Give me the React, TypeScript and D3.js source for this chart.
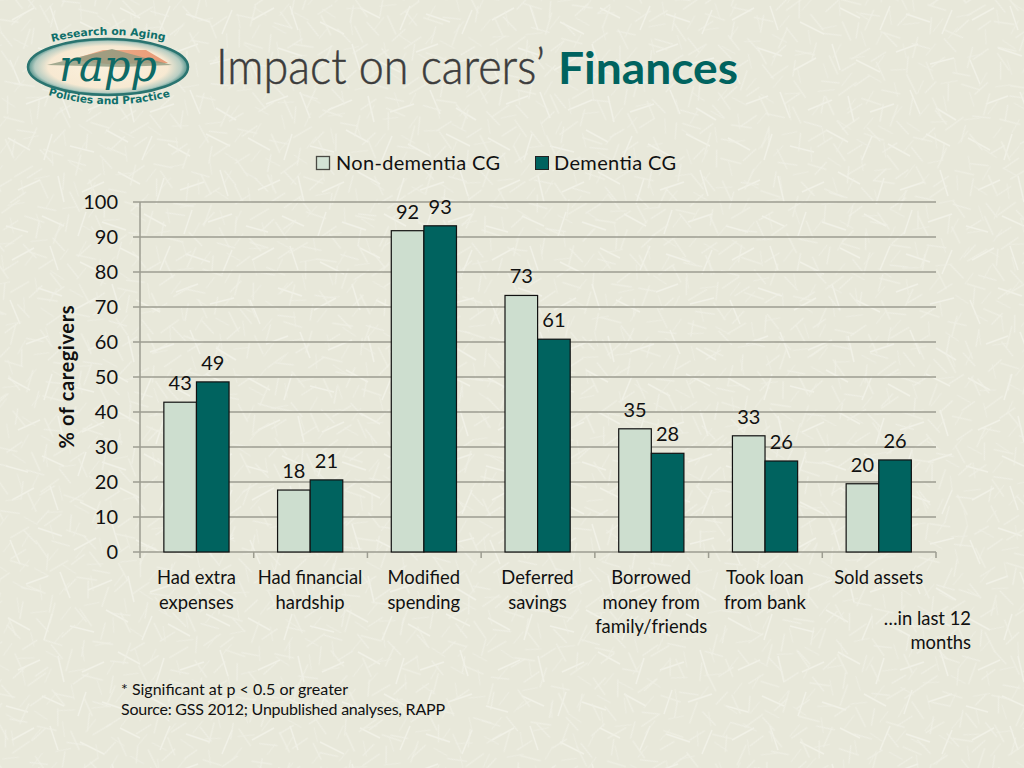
import React from "react";
import * as d3 from "d3";

const categories = [
  ["Had extra", "expenses"],
  ["Had financial", "hardship"],
  ["Modified", "spending"],
  ["Deferred", "savings"],
  ["Borrowed", "money from", "family/friends"],
  ["Took loan", "from bank"],
  ["Sold assets"],
];
const nonDementia = [42.8, 17.7, 91.8, 73.3, 35.2, 33.2, 19.5];
const dementia = [48.6, 20.6, 93.2, 60.8, 28.2, 26, 26.3];
const yTicks = [0, 10, 20, 30, 40, 50, 60, 70, 80, 90, 100];
const seriesNames = ["Non-dementia CG", "Dementia CG"];
const seriesColors = ["#cddecf", "#00635f"];
const textureStrokes = [
  [12, 20, 34, 8], [50, 6, 58, 30], [80, 22, 104, 34], [120, 8, 140, 18], [160, 30, 170, 6],
  [186, 14, 210, 22], [222, 34, 232, 10], [10, 60, 20, 84], [38, 48, 62, 56], [74, 70, 96, 58],
  [112, 44, 120, 70], [136, 60, 160, 72], [176, 52, 198, 44], [210, 64, 234, 58], [26, 104, 48, 96],
  [60, 92, 70, 118], [88, 110, 112, 100], [128, 96, 134, 122], [150, 112, 174, 104], [190, 90, 200, 114],
  [216, 108, 236, 120], [8, 138, 30, 150], [44, 160, 52, 134], [70, 146, 94, 152], [106, 130, 128, 142],
  [142, 160, 152, 136], [168, 144, 190, 156], [206, 134, 230, 146], [18, 190, 40, 180], [58, 176, 64, 202],
  [82, 192, 104, 182], [118, 172, 140, 184], [156, 204, 164, 178], [180, 190, 204, 182], [220, 170, 228, 196],
  [6, 226, 28, 232], [42, 216, 64, 226], [78, 236, 86, 212], [102, 222, 126, 230], [144, 214, 166, 226],
  [184, 234, 192, 210], [208, 222, 232, 214],
];
const patternLayers = [
  { id: "texA", transform: "", color: "#f1f1e7" },
  { id: "texB", transform: "rotate(37) scale(0.83)", color: "#efefe4" },
  { id: "texC", transform: "rotate(-61) scale(0.71) translate(31,17)", color: "#f0f0e6" },
  { id: "texD", transform: "rotate(101) scale(0.62) translate(13,47)", color: "#eeeee3" },
];

const x0 = d3.scaleBand<number>().domain(d3.range(categories.length)).range([140, 936]);
const y = d3.scaleLinear().domain([0, 100]).range([552, 202]);
const fmt = d3.format(".0f");
const barW = 32.6;
const FONT = "Lato, 'Noto Sans', sans-serif";

function Logo() {
  return (
    <g>
      <defs>
        <radialGradient id="logoFill" cx="50%" cy="50%" r="52%">
          <stop offset="0%" stopColor="#fbf1dd" />
          <stop offset="72%" stopColor="#f7e9d2" />
          <stop offset="88%" stopColor="#b7cdc2" />
          <stop offset="100%" stopColor="#1f7470" />
        </radialGradient>
        <linearGradient id="roofFill" x1="0" x2="1" y1="0" y2="0">
          <stop offset="0%" stopColor="#f0b08c" />
          <stop offset="100%" stopColor="#e89c78" />
        </linearGradient>
        <path id="arcTop" d="M52,42 Q105,28 166,41" fill="none" />
        <path id="arcBot" d="M48,95 Q108,113 172,96" fill="none" />
      </defs>
      <ellipse cx="108" cy="67" rx="80" ry="28" fill="url(#logoFill)" stroke="#2a7470" strokeWidth="2.5" />
      <path d="M70,60 L103,50 L146,50 L168,63 L108,64 Z" fill="url(#roofFill)" />
      <path d="M47,65 L112,49 L172,65 L120,67 Z" fill="#8d9a80" opacity="0.8" />
      <text x="108" y="81" textAnchor="middle" fontFamily="'DejaVu Serif', serif" fontStyle="italic" fontSize="44" fill="#0e6a66" textLength="98" lengthAdjust="spacingAndGlyphs">rapp</text>
      <text fontFamily="'DejaVu Sans', sans-serif" fontWeight="700" fontSize="10.5" fill="#0f6f6a">
        <textPath href="#arcTop" textLength="114" lengthAdjust="spacingAndGlyphs">Research on Aging</textPath>
      </text>
      <text fontFamily="'DejaVu Sans', sans-serif" fontWeight="700" fontSize="10.5" fill="#0f6f6a">
        <textPath href="#arcBot" textLength="124" lengthAdjust="spacingAndGlyphs">Policies and Practice</textPath>
      </text>
    </g>
  );
}

export default function App() {
  return (
    <svg width={1024} height={768} style={{ position: "absolute", left: 0, top: 0 }} fontFamily={FONT}>
      <defs>
        {patternLayers.map((p) => (
          <pattern key={p.id} id={p.id} width="240" height="240" patternUnits="userSpaceOnUse" patternTransform={p.transform}>
            {textureStrokes.map((s, i) => (
              <line key={i} x1={s[0]} y1={s[1]} x2={s[2]} y2={s[3]} stroke={p.color} strokeWidth="1.5" />
            ))}
          </pattern>
        ))}
      </defs>
      <rect width="1024" height="768" fill="#e8e8da" />
      {patternLayers.map((p) => (
        <rect key={p.id} width="1024" height="768" fill={`url(#${p.id})`} />
      ))}
      <Logo />

      <text x="216" y="84" fontSize="49" fontWeight="300" fill="#3c3c3c" stroke="#3c3c3c" strokeWidth="0.5" textLength="329" lengthAdjust="spacingAndGlyphs">Impact on carers’</text>
      <text x="558" y="84" fontSize="43" fontWeight="700" fill="#00635f" textLength="180" lengthAdjust="spacingAndGlyphs">Finances</text>

      {/* legend */}
      <rect x="316.5" y="156.5" width="13" height="13" fill="#d3e3d5" stroke="#4a4a44" strokeWidth="1.3" />
      <text x="336" y="170" fontSize="20" fill="#111" textLength="164">{seriesNames[0]}</text>
      <rect x="535.5" y="156.5" width="13" height="13" fill={seriesColors[1]} stroke="#222" />
      <text x="554" y="170" fontSize="20" fill="#111" textLength="122">{seriesNames[1]}</text>

      {/* grid */}
      {yTicks.map((t) => (
        <g key={t}>
          <line x1={133} x2={936} y1={y(t)} y2={y(t)} stroke="#9c9c90" strokeWidth="1.5" />
          <text x={118} y={y(t) + 7} textAnchor="end" fontSize="20" fill="#111">{t}</text>
        </g>
      ))}
      <line x1={140} x2={140} y1={202} y2={552} stroke="#9c9c90" strokeWidth="1.5" />
      {d3.range(categories.length + 1).map((i) => {
        const px = 140 + i * x0.step();
        return <line key={i} x1={px} x2={px} y1={552} y2={558} stroke="#9c9c90" strokeWidth="1.5" />;
      })}

      {/* y title */}
      <text transform="translate(74,377) rotate(-90)" textAnchor="middle" fontSize="20" fontWeight="700" fill="#111" textLength="143">% of caregivers</text>

      {/* bars */}
      {categories.map((_, i) => {
        const c = x0(i)! + x0.bandwidth() / 2;
        return (
          <g key={i}>
            {[nonDementia[i], dementia[i]].map((v, j) => {
              const bx = c - barW + j * barW - 0.4;
              return (
                <g key={j}>
                  <rect x={bx} y={y(v)} width={barW} height={552 - y(v)} fill={seriesColors[j]} stroke="#111" strokeWidth="1.2" />
                  <text x={bx + barW / 2} y={y(v) - 12} textAnchor="middle" fontSize="20" fill="#111">{fmt(v)}</text>
                </g>
              );
            })}
          </g>
        );
      })}

      {/* category labels */}
      {categories.map((lines, i) => (
        <text key={i} textAnchor="middle" fontSize="18.4" fill="#111">
          {lines.map((l, k) => (
            <tspan key={k} x={x0(i)! + x0.bandwidth() / 2 - 0.5} y={584 + k * 24.5}>{l}</tspan>
          ))}
        </text>
      ))}

      <text textAnchor="end" fontSize="18.4" fill="#111">
        <tspan x="971" y="625">…in last 12</tspan>
        <tspan x="971" y="649">months</tspan>
      </text>

      <text fontSize="16" fill="#111">
        <tspan x="121" y="695">* Significant at p &lt; 0.5 or greater</tspan>
        <tspan x="121" y="715" textLength="324">Source: GSS 2012; Unpublished analyses, RAPP</tspan>
      </text>
    </svg>
  );
}
